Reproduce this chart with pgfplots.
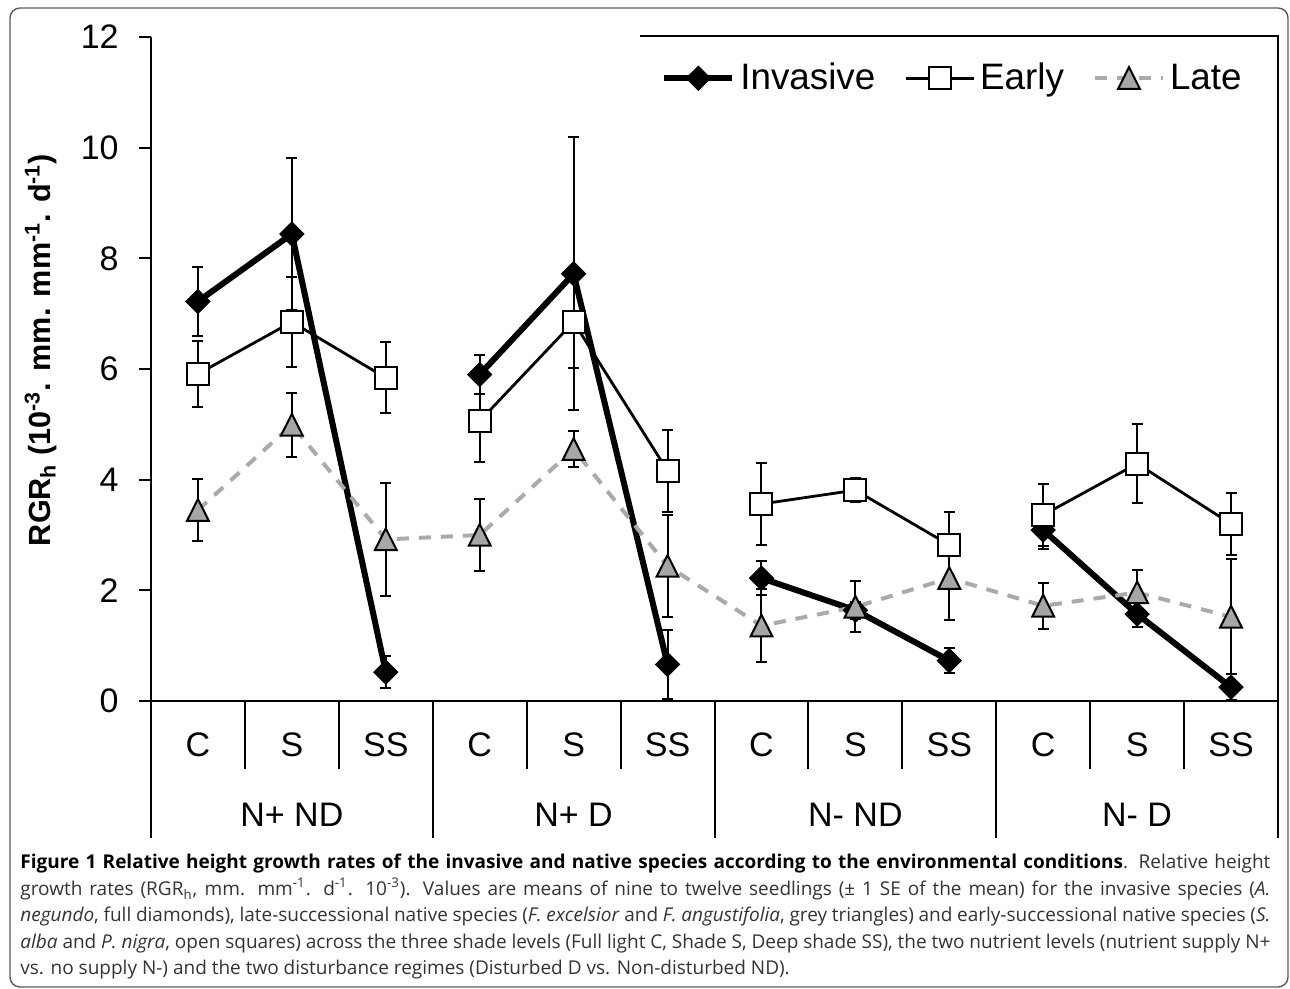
\documentclass[border=0pt]{standalone}
\usepackage{fontspec}
\setmainfont{Liberation Sans}
\newfontfamily\capfont{Open Sans}
\usepackage{pgfplots}
\usepackage{pgfplotstable}
\pgfplotsset{compat=1.18}

\definecolor{lategrey}{RGB}{166,166,166}
\definecolor{dashgrey}{RGB}{170,170,170}
\definecolor{framegrey}{RGB}{90,90,90}

% x: 1-3 N+ ND, 4-6 N+ D, 7-9 N- ND, 10-12 N- D (C, S, SS)
% nan rows break the line between the groups
\pgfplotstableread{
x    y     e
1    7.22  0.63
2    8.44  1.37
3    0.52  0.29
3.5  nan   0
4    5.90  0.36
5    7.72  2.47
6    0.66  0.62
6.5  nan   0
7    2.22  0.31
8    1.64  0.15
9    0.73  0.22
9.5  nan   0
10   3.09  0.34
11   1.57  0.24
12   0.25  0.24
}\invasive

\pgfplotstableread{
x    y     e
1    5.91  0.59
2    6.85  0.82
3    5.84  0.64
3.5  nan   0
4    5.06  0.74
5    6.85  0.84
6    4.16  0.74
6.5  nan   0
7    3.56  0.74
8    3.81  0.22
9    2.82  0.60
9.5  nan   0
10   3.36  0.56
11   4.29  0.71
12   3.20  0.56
}\early

\pgfplotstableread{
x  y     e
1  3.45  0.56
2  4.99  0.58
3  2.92  1.02
4  3.00  0.65
5  4.55  0.33
6  2.44  0.92
7  1.36  0.66
8  1.70  0.46
9  2.22  0.76
10 1.72  0.42
11 1.96  0.41
12 1.52  1.04
}\late

\begin{document}
\begin{tikzpicture}
\useasboundingbox (0,0) rectangle (645pt,494.5pt);
\draw[framegrey, line width=0.7pt, rounded corners=5pt] (5pt,1pt) rectangle (644pt,490.5pt);

\begin{axis}[
  at={(75.5pt,144pt)}, anchor=south west,
  scale only axis, width=563.5pt, height=332pt,
  xmin=0.5, xmax=12.5, ymin=0, ymax=12,
  axis lines*=left,
  axis line style={line width=1pt},
  xtick=\empty,
  ytick={0,2,...,12},
  tick align=outside, major tick length=6pt,
  tick style={line width=1pt, black},
  yticklabel style={font=\fontsize{17}{20}\selectfont, inner sep=0pt, xshift=-10pt},
  /pgf/number format/assume math mode=true,
  clip=false,
  unbounded coords=jump,
  error bars/y dir=both, error bars/y explicit,
  error bars/error bar style={line width=1pt, black, solid},
  error bars/error mark options={rotate=90, line width=1pt, mark size=2.75pt, black, solid},
  legend image code/.code={
    \draw[mark repeat=2, mark phase=2, #1] plot coordinates {(0pt,0pt) (17pt,0pt) (34pt,0pt)};
  },
  legend style={draw=none, fill=none, inner sep=0pt,
    at={(rel axis cs:0.4525,0.938)}, anchor=west,
    font=\fontsize{18.4}{22}\selectfont,
    nodes={inner sep=0pt},
    /tikz/every even column/.append style={column sep=14.5pt},
    /tikz/every odd column/.append style={column sep=2.5pt}},
  legend columns=3,
]

\addplot[black, line width=3pt, mark=square*, mark size=4.25pt,
  mark options={rotate=45, solid, fill=black, line width=0.5pt}]
  table[x=x, y=y, y error=e] {\invasive};
\addlegendentry{Invasive}

\addplot[black, line width=1.4pt, mark=square*, mark size=5.5pt,
  mark options={solid, fill=white, draw=black, line width=1pt}]
  table[x=x, y=y, y error=e] {\early};
\addlegendentry{Early}

\addplot[dashgrey, line width=2pt, dash pattern=on 6pt off 5pt, mark=triangle*, mark size=6.3pt,
  mark options={solid, fill=lategrey, draw=black, line width=1pt, yscale=1.15, yshift=-1.5pt}]
  table[x=x, y=y, y error=e] {\late};
\addlegendentry{Late}

% category axis separators
\pgfplotsinvokeforeach{1.5,2.5,4.5,5.5,7.5,8.5,10.5,11.5}{
  \draw[line width=1pt] (axis cs:#1,0) -- (axis cs:#1,-1.23);
}
\pgfplotsinvokeforeach{0.5,3.5,6.5,9.5,12.5}{
  \draw[line width=1pt] (axis cs:#1,0) -- (axis cs:#1,-2.476);
}
\pgfplotsinvokeforeach{1,4,7,10}{
  \node[anchor=base, font=\fontsize{17}{20}\selectfont] at (axis cs:#1,-1.012) {C};
}
\pgfplotsinvokeforeach{2,5,8,11}{
  \node[anchor=base, font=\fontsize{17}{20}\selectfont] at (axis cs:#1,-1.012) {S};
}
\pgfplotsinvokeforeach{3,6,9,12}{
  \node[anchor=base, font=\fontsize{17}{20}\selectfont] at (axis cs:#1,-1.012) {SS};
}
\node[anchor=base, font=\fontsize{17}{20}\selectfont] at (axis cs:2,-2.277) {N+ ND};
\node[anchor=base, font=\fontsize{17}{20}\selectfont] at (axis cs:5,-2.277) {N+ D};
\node[anchor=base, font=\fontsize{17}{20}\selectfont] at (axis cs:8,-2.277) {N- ND};
\node[anchor=base, font=\fontsize{17}{20}\selectfont] at (axis cs:11,-2.277) {N- D};
\end{axis}

% plot area border (top and right)
\draw[line width=0.8pt] (320pt,476.5pt) -- (639pt,476.5pt) -- (639pt,144pt);

% y label
\node[rotate=90, anchor=base, font=\bfseries\fontsize{15.3}{18}\selectfont]
  at (25pt,319.5pt) {RGR\textsubscript{h} (10\textsuperscript{-3}. mm. mm\textsuperscript{-1}. d\textsuperscript{-1})};

% caption
\node[anchor=north west, inner sep=0pt, text width=625pt, align=justify,
  font=\capfont\fontsize{9.5}{13.25}\selectfont, text=black!80]
  at (10pt,67.5pt) {\hyphenpenalty=10000\textcolor{black}{\textbf{Figure 1 Relative height growth rates of the invasive and native species according to the environmental conditions}}. Relative height\linebreak
growth rates (RGR\textsubscript{h}, mm. mm\textsuperscript{-1}. d\textsuperscript{-1}. 10\textsuperscript{-3}). Values are means of nine to twelve seedlings (± 1 SE of the mean) for the invasive species (\textit{A.}\linebreak
\textit{negundo}, full diamonds), late-successional native species (\textit{F. excelsior} and \textit{F. angustifolia}, grey triangles) and early-successional native species (\textit{S.}\linebreak
\textit{alba} and \textit{P. nigra}, open squares) across the three shade levels (Full light C, Shade S, Deep shade SS), the two nutrient levels (nutrient supply N+\linebreak
vs. no supply N-) and the two disturbance regimes (Disturbed D vs. Non-disturbed ND).};
\end{tikzpicture}
\end{document}
